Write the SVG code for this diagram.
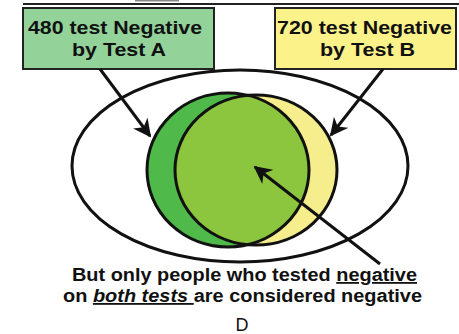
<svg xmlns="http://www.w3.org/2000/svg" width="459" height="334" viewBox="0 0 459 334">
<defs>
<style>
.box{stroke:#222;stroke-width:2}
.t{font-family:"Liberation Sans",Arial,sans-serif;font-weight:bold;fill:#111}
.ln{stroke:#111;stroke-width:3;fill:none}
.ring{stroke:#111;stroke-width:3;fill:none}
</style>
<marker id="ah" viewBox="0 0 10 10" refX="9" refY="5" markerWidth="6" markerHeight="6" orient="auto" markerUnits="strokeWidth">
<path d="M0,0 L10,5 L0,10 L3,5 Z" fill="#111"/>
</marker>
<clipPath id="clipA"><ellipse cx="228" cy="170" rx="81" ry="77"/></clipPath>
</defs>
<rect width="459" height="334" fill="#ffffff"/>
<line x1="23" y1="4" x2="459" y2="4" stroke="#222" stroke-width="2"/>
<rect x="135" y="0" width="44" height="1.5" fill="#888"/>
<g id="outer">
<ellipse cx="240" cy="166" rx="168" ry="96" class="ring"/>
</g>
<g id="testA">
<ellipse cx="228" cy="170" rx="81" ry="77" fill="#4fba4a"/>
</g>
<g id="testB">
<ellipse cx="256" cy="170" rx="81" ry="75" fill="#f6ee8c"/>
</g>
<g id="both">
<ellipse cx="256" cy="170" rx="81" ry="75" fill="#8cc63f" clip-path="url(#clipA)"/>
<ellipse cx="228" cy="170" rx="81" ry="77" class="ring"/>
<ellipse cx="256" cy="170" rx="81" ry="75" class="ring"/>
</g>
<g id="boxA">
<rect x="23" y="8" width="191" height="61" fill="#93d39a" class="box"/>
<text class="t" font-size="19" x="28" y="34" textLength="174" lengthAdjust="spacingAndGlyphs">480 test Negative</text>
<text class="t" font-size="19" x="72" y="56" textLength="94" lengthAdjust="spacingAndGlyphs">by Test A</text>
</g>
<g id="boxB">
<rect x="275" y="8" width="181" height="61" fill="#fbf38a" class="box"/>
<text class="t" font-size="19" x="277" y="34" textLength="175" lengthAdjust="spacingAndGlyphs">720 test Negative</text>
<text class="t" font-size="19" x="320" y="56" textLength="95" lengthAdjust="spacingAndGlyphs">by Test B</text>
</g>
<g id="connectors">
<line x1="100" y1="69" x2="150" y2="136" class="ln" marker-end="url(#ah)"/>
<line x1="383" y1="69" x2="331" y2="135" class="ln" marker-end="url(#ah)"/>
<line x1="380" y1="264" x2="255" y2="167" class="ln" marker-end="url(#ah)"/>
</g>
<g id="caption">
<text class="t" font-size="18" x="72" y="281" textLength="345" lengthAdjust="spacingAndGlyphs">But only people who tested <tspan text-decoration="underline">negative</tspan></text>
<text class="t" font-size="18" x="63" y="302" textLength="359" lengthAdjust="spacingAndGlyphs">on <tspan font-style="italic" text-decoration="underline">both tests </tspan>are considered negative</text>
<text font-family="Liberation Sans,Arial,sans-serif" font-size="18" fill="#111" x="242" y="331" text-anchor="middle">D</text>
</g>
</svg>
